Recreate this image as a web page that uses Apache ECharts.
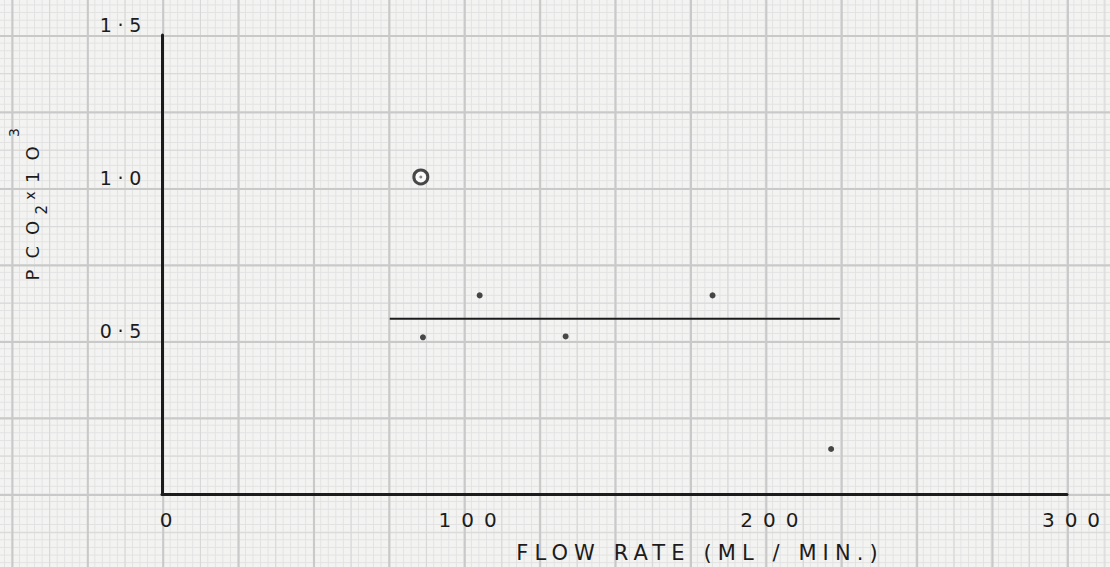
<!DOCTYPE html>
<html>
<head>
<meta charset="utf-8">
<script src="https://cdn.jsdelivr.net/npm/echarts@6/dist/echarts.min.js"></script>
<style>
html,body{margin:0;padding:0;}
#chart{
  width:1110px;height:567px;
  background-color:#f3f3f2;
  background-image:
    linear-gradient(to right, #c9c9c9 1.6px, transparent 1.6px),
    linear-gradient(to bottom, #c9c9c9 1.6px, transparent 1.6px),
    linear-gradient(to right, #d7d7d7 1px, transparent 1px),
    linear-gradient(to bottom, #d7d7d7 1px, transparent 1px),
    linear-gradient(to right, #e2e2e2 1px, transparent 1px),
    linear-gradient(to bottom, #e2e2e2 1px, transparent 1px);
  background-size:
    75.4px 100%, 100% 76.5px,
    37.7px 100%, 100% 38.25px,
    7.54px 100%, 100% 7.65px;
  background-position:
    11.5px 0, 0 35px,
    11.5px 0, 0 35px,
    11.5px 0, 0 35px;
}
#chart svg text[style*="20px"]{letter-spacing:0.5em;}
#chart svg text[style*="19px"]{letter-spacing:0.3em;}
#chart svg text[style*="21px"]{letter-spacing:0.29em;}
</style>
</head>
<body>
<div id="chart"></div>
<script>
// Axis ticks / labels
const xTickValues = [0, 100, 200, 300];
const xTickLabels = ['0', '100', '200', '300'];
const yTickValues = [0.5, 1.0, 1.5];
const yTickLabels = ['0·5', '1·0', '1·5'];

// Measured points (flow rate, PCO2 x 10^3)
const pointsX = [86.5, 105.3, 133.8, 182.5, 221.8];
const pointsY = [0.512, 0.649, 0.515, 0.649, 0.147];

// Circled (rejected) point
const circledX = [85.8];
const circledY = [1.036];

// Mean line
const meanX = [75.5, 224.7];
const meanY = [0.573, 0.573];

const ink = '#1c1c1c';
const font = 'DejaVu Sans';

const chart = echarts.init(document.getElementById('chart'), null, {renderer: 'svg'});
chart.setOption({
  backgroundColor: 'transparent',
  animation: false,
  grid: {left: 162, right: 43, top: 35, bottom: 73, containLabel: false},
  xAxis: {
    type: 'value', min: 0, max: 300, interval: 100,
    axisLine: {show: true, onZero: false, lineStyle: {color: ink, width: 3}},
    axisTick: {show: false},
    splitLine: {show: false},
    axisLabel: {
      margin: 16, color: ink, fontFamily: font, fontSize: 20,
      padding: [0, 0, 0, 18],
      formatter: v => { const i = xTickValues.indexOf(v); return i >= 0 ? xTickLabels[i] : ''; }
    }
  },
  yAxis: {
    type: 'value', min: 0, max: 1.5, interval: 0.5,
    axisLine: {show: true, onZero: false, lineStyle: {color: ink, width: 3}},
    axisTick: {show: false},
    splitLine: {show: false},
    axisLabel: {
      margin: 15, color: ink, fontFamily: font, fontSize: 19,
      verticalAlign: 'bottom', lineHeight: 21,
      formatter: v => { const i = yTickValues.findIndex(t => Math.abs(t - v) < 1e-9); return i >= 0 ? yTickLabels[i] : ''; }
    }
  },
  graphic: [
    {
      type: 'text', x: 700, y: 553, z: 10,
      style: {text: 'FLOW RATE (ML / MIN.)', fill: ink, font: '21px "DejaVu Sans"', align: 'center', verticalAlign: 'middle'}
    },
    {
      type: 'text', x: 32, y: 206, rotation: Math.PI / 2, z: 10,
      style: {
        text: '{a|P}{a|C}{a|O}{sub|2}{supx|x}{a|1}{a|O}{sup|3}',
        fill: ink, font: '18px "DejaVu Sans"',
        align: 'center', verticalAlign: 'middle',
        rich: {
          a: {fontSize: 18, fontFamily: font, fill: ink, padding: [0, 5.5, 0, 5.5], lineHeight: 50, verticalAlign: 'middle'},
          sub: {fontSize: 15, fontFamily: font, fill: ink, padding: [20, 3, 0, 1], lineHeight: 15, verticalAlign: 'middle'},
          supx: {fontSize: 14, fontFamily: font, fill: ink, padding: [0, 3, 4, 2], lineHeight: 14, verticalAlign: 'middle'},
          sup: {fontSize: 14, fontFamily: font, fill: ink, padding: [0, 2, 0, 4], lineHeight: 14, verticalAlign: 'top'}
        }
      }
    }
  ],
  series: [
    {
      type: 'line', data: meanX.map((x, i) => [x, meanY[i]]),
      showSymbol: false, symbol: 'none',
      lineStyle: {color: ink, width: 2}, silent: true
    },
    {
      type: 'scatter', data: pointsX.map((x, i) => [x, pointsY[i]]),
      symbol: 'circle', symbolSize: 6,
      itemStyle: {color: ink}
    },
    {
      type: 'scatter', data: circledX.map((x, i) => [x, circledY[i]]),
      symbol: 'circle', symbolSize: 14,
      itemStyle: {color: 'rgba(255,255,255,0.9)', borderColor: ink, borderWidth: 3}
    },
    {
      type: 'scatter', data: circledX.map((x, i) => [x, circledY[i]]),
      symbol: 'circle', symbolSize: 3,
      itemStyle: {color: '#666'}
    }
  ]
});
</script>
</body>
</html>
